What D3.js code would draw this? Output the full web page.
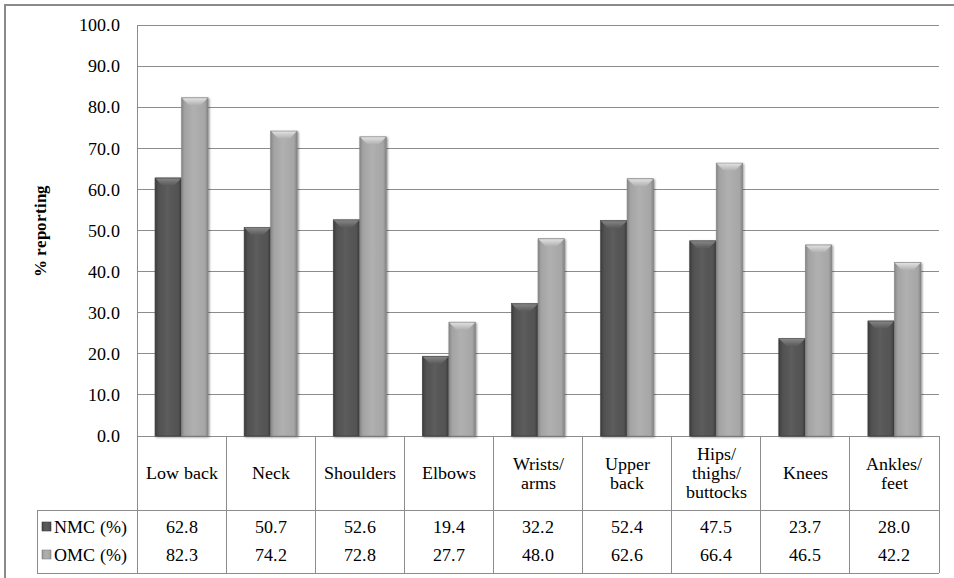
<!DOCTYPE html>
<html><head><meta charset="utf-8">
<script src="https://cdn.jsdelivr.net/npm/d3@7"></script>
<style>
@font-face{font-family:"SerifLocal";font-weight:400;src:local("Liberation Serif"),local("LiberationSerif"),local("LiberationSerif-Regular"),local("Liberation Serif Regular"),local("Tinos"),local("Tinos-Regular"),local("Times New Roman"),local("TimesNewRomanPSMT"),local("Nimbus Roman"),local("NimbusRoman-Regular"),local("DejaVu Serif"),local("DejaVuSerif"),local("Noto Serif"),local("NotoSerif-Regular");}
@font-face{font-family:"SerifLocal";font-weight:700;src:local("Liberation Serif Bold"),local("LiberationSerif-Bold"),local("Tinos-Bold"),local("TimesNewRomanPS-BoldMT"),local("DejaVu Serif Bold"),local("DejaVuSerif-Bold");}
body{margin:0;background:#fff}svg{display:block}
svg text{font-family:"SerifLocal","Liberation Serif",serif !important;fill:#000}
</style>
</head><body>
<svg id="c" width="954" height="578"></svg>
<script>
const categories = [["Low back"],["Neck"],["Shoulders"],["Elbows"],["Wrists/","arms"],["Upper","back"],["Hips/","thighs/","buttocks"],["Knees"],["Ankles/","feet"]];
const seriesNames = ["NMC (%)","OMC (%)"];
const nmc = [62.8,50.7,52.6,19.4,32.2,52.4,47.5,23.7,28.0];
const omc = [82.3,74.2,72.8,27.7,48.0,62.6,66.4,46.5,42.2];
const yTicks = [0,10,20,30,40,50,60,70,80,90,100];
const seriesValues = [nmc, omc];

(function(){
const svg = d3.select("#c");
const pL = 137, pR = 939, pT = 25, pB = 436;
const tableHeadBottom = 510, tableBottom = 573, legendLeft = 37;
const gridColor = "#8c8c8c";

// outer frame
svg.append("rect").attr("x",5).attr("y",5).attr("width",960).attr("height",600)
  .attr("fill","none").attr("stroke","#8a8a8a").attr("stroke-width",2);

const idx = d3.range(categories.length);
const x = d3.scaleBand().domain(idx).range([pL,pR]).padding(0);
const x1 = d3.scaleBand().domain([0,1]).range([0,x.bandwidth()]).paddingInner(0).paddingOuter(0.68);
const y = d3.scaleLinear().domain([0,100]).range([pB,pT]);

// gradients
const defs = svg.append("defs");
const palettes = [
  {stops:[["0%","#3a3a3a"],["12%","#505050"],["45%","#5c5c5c"],["88%","#525252"],["100%","#383838"]], cap:["#8a8a8a","#5a5a5a"], stroke:"#3f3f3f"},
  {stops:[["0%","#858585"],["12%","#a3a3a3"],["45%","#b0b0b0"],["88%","#a6a6a6"],["100%","#828282"]], cap:["#e6e6e6","#b0b0b0"], stroke:"#858585"}
];
palettes.forEach((p,i)=>{
  const g = defs.append("linearGradient").attr("id","g"+i).attr("x1","0").attr("x2","1").attr("y1","0").attr("y2","0");
  p.stops.forEach(s=>g.append("stop").attr("offset",s[0]).attr("stop-color",s[1]));
  const c = defs.append("linearGradient").attr("id","cap"+i).attr("x1","0").attr("x2","0").attr("y1","0").attr("y2","1");
  c.append("stop").attr("offset","0%").attr("stop-color",p.cap[0]);
  c.append("stop").attr("offset","100%").attr("stop-color",p.cap[1]);
});
const sh = defs.append("filter").attr("id","sh").attr("x","-20%").attr("y","-5%").attr("width","140%").attr("height","110%");
sh.append("feGaussianBlur").attr("in","SourceAlpha").attr("stdDeviation",1.2).attr("result","b");
sh.append("feOffset").attr("in","b").attr("dx",0.5).attr("dy",0.5).attr("result","o");
sh.append("feComponentTransfer").attr("in","o").attr("result","o2").append("feFuncA").attr("type","linear").attr("slope",0.45);
const m = sh.append("feMerge"); m.append("feMergeNode").attr("in","o2"); m.append("feMergeNode").attr("in","SourceGraphic");

// gridlines
svg.append("g").selectAll("line").data(yTicks).join("line")
  .attr("x1",pL).attr("x2",pR).attr("y1",d=>y(d)).attr("y2",d=>y(d))
  .attr("stroke",gridColor).attr("stroke-width",1).attr("shape-rendering","crispEdges");

// y axis
const yAxis = d3.axisLeft(y).tickValues(yTicks).tickFormat(d3.format(".1f")).tickSize(0).tickPadding(17);
const ya = svg.append("g").attr("transform",`translate(${pL},0)`).call(yAxis);
ya.select(".domain").attr("stroke",gridColor).attr("shape-rendering","crispEdges");
ya.selectAll("text").attr("font-size",18).attr("font-weight","normal").attr("fill","#000");

// y title
svg.append("text").attr("transform","translate(46,231) rotate(-90)").attr("text-anchor","middle")
  .attr("font-size",17).attr("font-weight","bold").text("% reporting");

// bars
const bars = svg.append("g");
seriesValues.forEach((vals,si)=>{
  const gs = bars.append("g").selectAll("g").data(idx).join("g")
    .attr("filter","url(#sh)");
  gs.append("rect")
    .attr("x",i=>x(i)+x1(si)).attr("width",x1.bandwidth())
    .attr("y",i=>y(vals[i])).attr("height",i=>y(0)-y(vals[i]))
    .attr("fill",`url(#g${si})`).attr("stroke",palettes[si].stroke).attr("stroke-width",0.6);
  const b = 7;
  gs.append("path").attr("d",i=>{
      const x0 = x(i)+x1(si)+0.5, xe = x(i)+x1(si)+x1.bandwidth()-0.5, yt = y(vals[i])+0.5;
      return `M${x0},${yt}L${xe},${yt}L${xe-b},${yt+b}L${x0+b},${yt+b}Z`;
    }).attr("fill",`url(#cap${si})`).attr("opacity",0.9);
});

// table
const tg = svg.append("g").attr("stroke",gridColor).attr("stroke-width",1).attr("shape-rendering","crispEdges");
tg.append("line").attr("x1",legendLeft).attr("x2",pR).attr("y1",tableHeadBottom).attr("y2",tableHeadBottom);
tg.append("line").attr("x1",legendLeft).attr("x2",pR).attr("y1",tableBottom).attr("y2",tableBottom);
tg.append("line").attr("x1",legendLeft).attr("x2",legendLeft).attr("y1",tableHeadBottom).attr("y2",tableBottom);
tg.selectAll(".v").data(d3.range(categories.length+1)).join("line").attr("class","v")
  .attr("x1",i=>i<categories.length?x(i):pR).attr("x2",i=>i<categories.length?x(i):pR)
  .attr("y1",pB).attr("y2",tableBottom);

// header labels
const lh = 19;
svg.append("g").selectAll("text").data(idx).join("text")
  .attr("text-anchor","middle").attr("font-size",18)
  .attr("x",i=>x(i)+x.bandwidth()/2)
  .each(function(i){
    const lines = categories[i];
    const n = lines.length;
    const cy = 473;
    d3.select(this).selectAll("tspan").data(lines).join("tspan")
      .attr("x",x(i)+x.bandwidth()/2)
      .attr("y",(d,k)=>cy + (k-(n-1)/2)*lh + 6)
      .text(d=>d);
  });

// data rows
const rowY = [527, 555];
seriesValues.forEach((vals,si)=>{
  svg.append("g").selectAll("text").data(idx).join("text")
    .attr("text-anchor","middle").attr("font-size",18)
    .attr("x",i=>x(i)+x.bandwidth()/2).attr("y",rowY[si]+6)
    .text(i=>d3.format(".1f")(vals[i]));
  svg.append("rect").attr("x",42).attr("y",rowY[si]-5).attr("width",9).attr("height",9)
    .attr("fill",`url(#g${si})`).attr("stroke",palettes[si].stroke).attr("stroke-width",0.6);
  svg.append("text").attr("x",54).attr("y",rowY[si]+6).attr("font-size",18).text(seriesNames[si]);
});
})();
</script>
</body></html>
